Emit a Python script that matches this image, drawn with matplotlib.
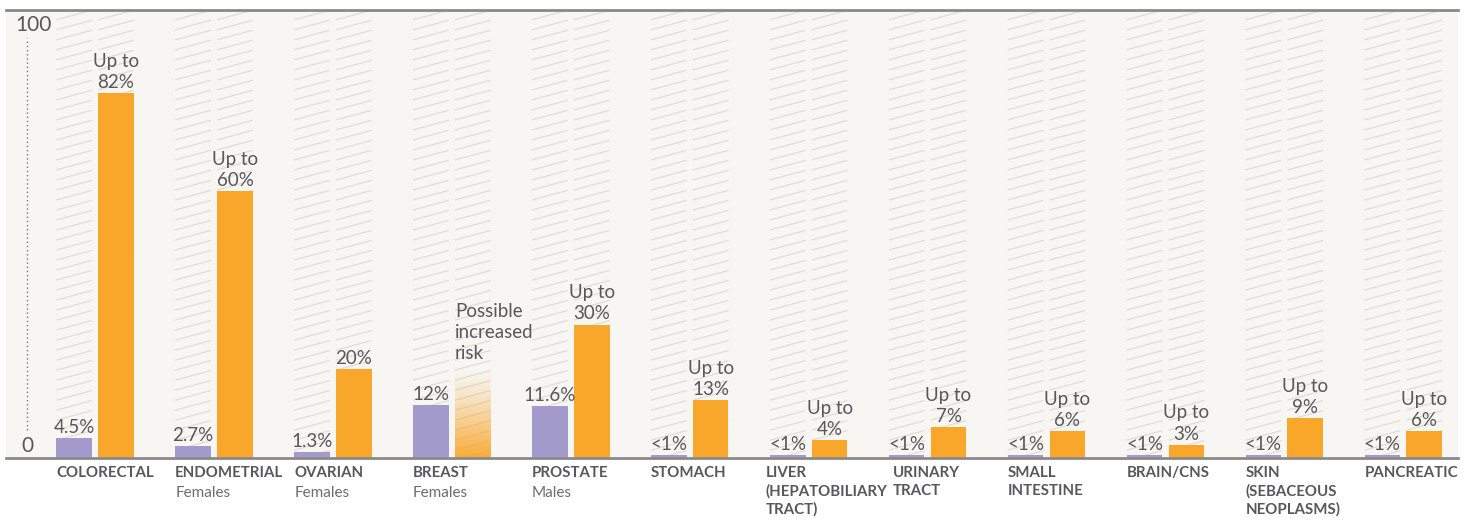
import numpy as np
import matplotlib.pyplot as plt
from matplotlib.patches import Rectangle
from matplotlib.collections import LineCollection

# datos
categories = ['COLORECTAL', 'ENDOMETRIAL', 'OVARIAN', 'BREAST', 'PROSTATE', 'STOMACH',
              'LIVER\n(HEPATOBILIARY\nTRACT)', 'URINARY\nTRACT', 'SMALL\nINTESTINE',
              'BRAIN/CNS', 'SKIN\n(SEBACEOUS\nNEOPLASMS)', 'PANCREATIC']
subtitles = ['', 'Females', 'Females', 'Females', 'Males', '', '', '', '', '', '', '']
general_pop = [4.5, 2.7, 1.3, 12, 11.6, 0.6, 0.6, 0.6, 0.6, 0.6, 0.6, 0.6]
general_labels = ['4.5%', '2.7%', '1.3%', '12%', '11.6%', '<1%', '<1%', '<1%', '<1%', '<1%', '<1%', '<1%']
lynch = [82, 60, 20, 20, 30, 13, 4, 7, 6, 3, 9, 6]
lynch_labels = ['Up to\n82%', 'Up to\n60%', '20%', 'Possible\nincreased\nrisk', 'Up to\n30%',
                'Up to\n13%', 'Up to\n4%', 'Up to\n7%', 'Up to\n6%', 'Up to\n3%', 'Up to\n9%', 'Up to\n6%']
uncertain = [False, False, False, True, False, False, False, False, False, False, False, False]

PURPLE = '#a29bcb'
ORANGE = '#f9a72b'
BG = '#f7f6f2'
HATCH = '#dfddd7'
TEXT = '#58585a'

plt.rcParams['font.family'] = ['Lato', 'DejaVu Sans']

fig = plt.figure(figsize=(14.72, 5.2), dpi=100)
ax = fig.add_axes([6 / 1472, 62 / 520, 1452 / 1472, 448 / 520])
ax.set_facecolor(BG)
ax.set_xlim(-0.749, 11.46)
ax.set_ylim(0, 100.7)
for s in ['left', 'right']:
    ax.spines[s].set_visible(False)
ax.spines['top'].set_color('#8a8a8a')
ax.spines['top'].set_linewidth(2)
ax.spines['bottom'].set_color('#8a8a8a')
ax.spines['bottom'].set_linewidth(2)
ax.set_xticks([])
ax.set_yticks([])

w = 0.30
off = 0.176
x = np.arange(len(categories))
ymax = 100.7
slope = 7.2
step = 2.25
# pequeño ajuste horizontal de etiquetas (puntos) para que no choquen
label_nudge = {6: -3, 7: 3}


def hatch_column(xc):
    x0, x1 = xc - w / 2, xc + w / 2
    clip = Rectangle((x0, 0), w, ymax, transform=ax.transData, visible=False)
    ax.add_patch(clip)
    segs = [[(x0, y), (x1, y + slope * w)] for y in np.arange(-5, ymax + 1, step)]
    lc = LineCollection(segs, colors=HATCH, linewidths=0.9, zorder=1)
    lc.set_clip_path(clip)
    ax.add_collection(lc)


for i in x:
    hatch_column(i - off)
    hatch_column(i + off)

ax.bar(x - off, general_pop, width=w, color=PURPLE, zorder=2)

for i in x:
    if uncertain[i]:
        # gradiente para el riesgo incierto
        grad = np.zeros((100, 1, 4))
        c = np.array([0xf9, 0xa7, 0x2b]) / 255
        grad[..., :3] = c
        grad[:, 0, 3] = np.linspace(0.95, 0.0, 100) ** 1.2
        ax.imshow(grad, extent=(i + off - w / 2, i + off + w / 2, 0, lynch[i]),
                  origin='lower', aspect='auto', zorder=2, interpolation='bilinear')
    else:
        ax.bar(i + off, lynch[i], width=w, color=ORANGE, zorder=2)

for i in x:
    ax.annotate(general_labels[i], (i - off, general_pop[i]), xytext=(0, 1.5),
                textcoords='offset points', ha='center', va='bottom',
                fontsize=13.5, color=TEXT)
    if uncertain[i]:
        ax.annotate(lynch_labels[i], (i + off - w / 2, lynch[i]), xytext=(0, 5),
                    textcoords='offset points', ha='left', va='bottom',
                    fontsize=13.5, color=TEXT, linespacing=1.3)
    else:
        ax.annotate(lynch_labels[i], (i + off, lynch[i]), xytext=(0, 1.5),
                    textcoords='offset points', ha='center', va='bottom',
                    fontsize=13.5, color=TEXT, linespacing=1.3)
    dx = label_nudge.get(i, 0)
    ax.annotate(categories[i], (i - off - w / 2, 0), xytext=(dx, -6),
                textcoords='offset points', ha='left', va='top', fontsize=10.8,
                fontweight='bold', color=TEXT, linespacing=1.3, annotation_clip=False)
    if subtitles[i]:
        ax.annotate(subtitles[i], (i - off - w / 2, 0), xytext=(dx, -20.5),
                    textcoords='offset points', ha='left', va='top', fontsize=11,
                    color='#6d6d6f', annotation_clip=False)

# eje y
ax.text(-0.52, 97.3, '100', ha='center', va='center', fontsize=15, color=TEXT)
ax.text(-0.57, 2.6, '0', ha='center', va='center', fontsize=15, color=TEXT)
ax.plot([-0.572, -0.572], [6.3, 94.5], ls=(0, (1, 2)), color='#777777', lw=1, zorder=3)

fig.savefig('out.png', dpi=100, facecolor='white')
